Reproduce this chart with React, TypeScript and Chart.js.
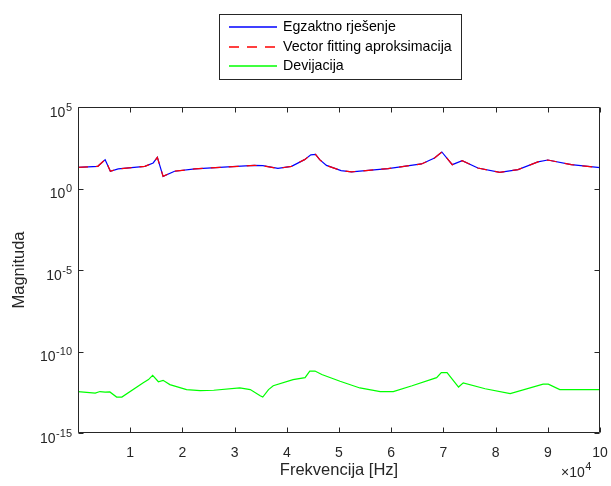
import React, { useEffect, useRef } from 'react';
import { Chart, registerables } from 'chart.js';

Chart.register(...registerables);

// ---- data ----
const freqExact = [0, 3800, 5200, 6200, 7700, 12800, 14400, 15200, 16300, 18500, 22400, 28700, 33800, 35400, 38300, 40900, 43400, 44600, 45500, 46300, 47600, 50400, 52400, 59400, 65800, 68300, 69700, 71700, 73600, 76600, 80800, 84300, 88100, 90000, 94500, 100000];
const magExact = [20, 23, 59, 11.5, 16, 23, 37, 81, 5.6, 11.5, 16, 21, 26, 25, 17, 23, 59, 117, 123, 59, 26, 12.6, 10.5, 16.6, 32, 74, 174, 29, 51, 18, 9.8, 14.5, 43, 56, 29, 19];

const freqFit = [0, 3800, 5200, 6200, 7700, 12800, 14400, 15200, 16300, 18500, 22400, 28700, 33800, 35400, 38300, 40900, 43400, 44600, 45500, 46300, 47600, 50400, 52400, 59400, 65800, 68300, 69700, 71700, 73600, 76600, 80800, 84300, 88100, 90000, 94500, 100000];
const magFit = [20, 23, 59, 11.5, 16, 23, 37, 81, 5.6, 11.5, 16, 21, 26, 25, 17, 23, 59, 117, 123, 59, 26, 12.6, 10.5, 16.6, 32, 74, 174, 29, 51, 18, 9.8, 14.5, 43, 56, 29, 19];

const freqDev = [0, 3300, 4200, 5200, 6100, 7400, 8400, 12500, 13500, 14300, 15400, 16300, 17600, 20800, 23400, 26000, 31000, 33000, 34900, 35400, 36500, 37400, 41200, 43500, 44400, 45400, 46700, 50200, 54000, 57900, 60400, 64000, 68700, 69600, 70700, 72900, 73800, 78000, 82800, 89100, 90100, 92300, 100000];
const magDev = [3.5e-13, 2.8e-13, 3.5e-13, 3.2e-13, 3.3e-13, 1.6e-13, 1.6e-13, 1.2e-12, 1.9e-12, 3.4e-12, 1.4e-12, 1.7e-12, 9.3e-13, 4.6e-13, 4.0e-13, 4.2e-13, 5.8e-13, 4.6e-13, 1.95e-13, 1.6e-13, 4.6e-13, 7.9e-13, 1.9e-12, 2.5e-12, 6.3e-12, 6.3e-12, 3.9e-12, 1.5e-12, 5.8e-13, 3.5e-13, 3.5e-13, 7.9e-13, 2.5e-12, 5.1e-12, 5.1e-12, 6.6e-13, 1.2e-12, 5.2e-13, 2.6e-13, 1.0e-12, 1.0e-12, 4.6e-13, 4.6e-13];

const seriesLabels = ['Egzaktno rješenje', 'Vector fitting aproksimacija', 'Devijacija'];
const seriesColors = ['#0000ff', '#ff0000', '#00ff00'];
const seriesDashes: number[][] = [[], [10, 8], []];
const yTickValues = [1e-15, 1e-10, 1e-5, 1, 1e5];
const xTickStep = 10000;
const xMin = 0;
const xMax = 100000;
const yMin = 1e-15;
const yMax = 1e5;
const xTitle = 'Frekvencija [Hz]';
const yTitle = 'Magnituda';
const xMultiplierBase = '×10';
const xMultiplierExp = '4';

// ---- styling ----
const FONT = '"Liberation Sans", Arial, Helvetica, sans-serif';
const AXIS_COLOR = '#262626';

const decorPlugin = {
  id: 'matlabDecor',
  afterDatasetsDraw(chart: any) {
    const { ctx, chartArea: a, scales } = chart;
    const xs = scales.x;
    const ys = scales.y;
    ctx.save();
    ctx.setLineDash([]);
    ctx.strokeStyle = AXIS_COLOR;
    ctx.lineWidth = 1;
    const L = Math.round(a.left) + 0.5;
    const R = Math.round(a.right) - 0.5;
    const T = Math.round(a.top) + 0.5;
    const B = Math.round(a.bottom) - 0.5;
    ctx.beginPath();
    ctx.rect(L, T, R - L, B - T);
    ctx.stroke();
    const tl = 5;
    ctx.beginPath();
    xs.ticks.forEach((t: any) => {
      const px = Math.round(xs.getPixelForValue(t.value)) + 0.5;
      ctx.moveTo(px, B);
      ctx.lineTo(px, B - tl);
      ctx.moveTo(px, T);
      ctx.lineTo(px, T + tl);
    });
    ys.ticks.forEach((t: any) => {
      const py = Math.round(ys.getPixelForValue(t.value)) + 0.5;
      ctx.moveTo(L, py);
      ctx.lineTo(L + tl, py);
      ctx.moveTo(R, py);
      ctx.lineTo(R - tl, py);
    });
    ctx.stroke();

    // y tick labels as 10^n
    ctx.fillStyle = AXIS_COLOR;
    ctx.textBaseline = 'alphabetic';
    ctx.textAlign = 'right';
    ys.ticks.forEach((t: any) => {
      const py = ys.getPixelForValue(t.value);
      const exp = String(Math.round(Math.log10(t.value)));
      const rx = a.left - 6;
      ctx.font = `11px ${FONT}`;
      const ew = ctx.measureText(exp).width;
      ctx.fillText(exp, rx, py + 3.5);
      ctx.font = `14px ${FONT}`;
      ctx.fillText('10', rx - ew - 0.5, py + 9.5);
    });

    // x multiplier
    ctx.textAlign = 'left';
    ctx.font = `14px ${FONT}`;
    const mx = 561;
    ctx.fillText(xMultiplierBase, mx, 477);
    const bw = ctx.measureText(xMultiplierBase).width;
    ctx.font = `11px ${FONT}`;
    ctx.fillText(xMultiplierExp, mx + bw + 0.5, 470);
    ctx.restore();
  },
  afterDraw(chart: any) {
    const { ctx } = chart;
    ctx.save();
    const bx = 219.5, by = 14.5, bw = 242, bh = 65;
    ctx.fillStyle = '#ffffff';
    ctx.fillRect(bx, by, bw, bh);
    ctx.strokeStyle = AXIS_COLOR;
    ctx.lineWidth = 1;
    ctx.setLineDash([]);
    ctx.strokeRect(bx, by, bw, bh);
    const rows = [27, 46.5, 66];
    chart.data.datasets.forEach((ds: any, i: number) => {
      const y = Math.round(rows[i]);
      ctx.strokeStyle = seriesColors[i];
      ctx.lineWidth = 1.4;
      ctx.setLineDash(seriesDashes[i]);
      ctx.beginPath();
      ctx.moveTo(229, y);
      ctx.lineTo(277, y);
      ctx.stroke();
      ctx.setLineDash([]);
      ctx.fillStyle = '#000000';
      ctx.font = `14.2px ${FONT}`;
      ctx.textAlign = 'left';
      ctx.textBaseline = 'middle';
      ctx.fillText(ds.label, 283, rows[i] + 0.5);
    });
    ctx.restore();
  },
};

export default function App() {
  const ref = useRef<HTMLCanvasElement | null>(null);

  useEffect(() => {
    if (!ref.current) return;
    const toPts = (xs: number[], ys: number[]) => xs.map((x, i) => ({ x, y: ys[i] }));
    const chart = new Chart(ref.current, {
      type: 'line',
      data: {
        datasets: [
          {
            label: seriesLabels[0],
            data: toPts(freqExact, magExact),
            borderColor: seriesColors[0],
            borderWidth: 1.2,
            pointRadius: 0,
            tension: 0,
            order: 2,
          },
          {
            label: seriesLabels[1],
            data: toPts(freqFit, magFit),
            borderColor: seriesColors[1],
            borderDash: seriesDashes[1],
            borderWidth: 1.2,
            pointRadius: 0,
            tension: 0,
            order: 1,
          },
          {
            label: seriesLabels[2],
            data: toPts(freqDev, magDev),
            borderColor: seriesColors[2],
            borderWidth: 1.2,
            pointRadius: 0,
            tension: 0,
            order: 0,
          },
        ],
      },
      options: {
        responsive: false,
        animation: false,
        layout: { padding: { left: 0, right: 11, top: 107, bottom: 0 } },
        plugins: { legend: { display: false }, tooltip: { enabled: false } },
        scales: {
          x: {
            type: 'linear',
            min: xMin,
            max: xMax,
            grid: { display: false, drawTicks: false },
            border: { display: false },
            ticks: {
              stepSize: xTickStep,
              autoSkip: false,
              maxRotation: 0,
              padding: 12,
              color: AXIS_COLOR,
              font: { family: FONT, size: 14 },
              callback: (v: any) => (Number(v) === 0 ? '' : String(Number(v) / 1e4)),
            },
            title: {
              display: true,
              text: xTitle,
              color: AXIS_COLOR,
              font: { family: FONT, size: 16.5 },
              padding: { top: 0, bottom: 6 },
            },
            afterFit: (s: any) => {
              s.height = 53;
              s.paddingLeft = 0;
              s.paddingRight = 0;
            },
          },
          y: {
            type: 'logarithmic',
            min: yMin,
            max: yMax,
            grid: { display: false, drawTicks: false },
            border: { display: false },
            ticks: { display: false },
            afterBuildTicks: (s: any) => {
              s.ticks = yTickValues.map((v) => ({ value: v }));
            },
            title: {
              display: true,
              text: yTitle,
              color: AXIS_COLOR,
              font: { family: FONT, size: 16.5 },
              padding: { top: 10, bottom: 0 },
            },
            afterFit: (s: any) => {
              s.width = 78;
              s.paddingTop = 0;
              s.paddingBottom = 0;
            },
          },
        },
      } as any,
      plugins: [decorPlugin],
    });
    return () => chart.destroy();
  }, []);

  return (
    <div style={{ position: 'fixed', left: 0, top: 0, width: 611, height: 486, background: '#fff' }}>
      <canvas ref={ref} width={611} height={486} />
    </div>
  );
}
